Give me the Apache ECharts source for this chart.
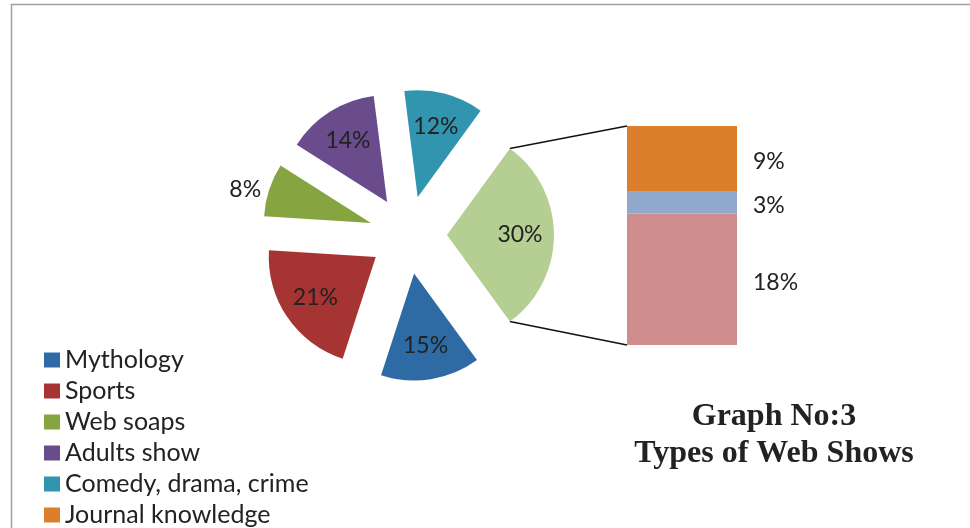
<!DOCTYPE html>
<html><head><meta charset="utf-8">
<script src="https://cdn.jsdelivr.net/npm/echarts@6/dist/echarts.min.js"></script>
<style>html,body{margin:0;padding:0;background:#fff}#c{width:970px;height:528px}</style>
</head><body><div id="c"></div>
<script>
// ---- data ----
const pieNames = ['Mythology', 'Sports', 'Web soaps', 'Adults show', 'Comedy, drama, crime'];
const pieValues = [15, 21, 8, 14, 12];
const otherName = 'Other';
// secondary bar, top to bottom (only the first name is visible in the legend)
const barNames = ['Journal knowledge', 'Item 7', 'Item 8'];
const barValues = [9, 3, 18];
const legendNames = ['Mythology', 'Sports', 'Web soaps', 'Adults show', 'Comedy, drama, crime', 'Journal knowledge'];
const titleLines = ['Graph No:3', 'Types of Web Shows'];

// ---- styles ----
const pieColors = ['#2E6BA4', '#A63432', '#86A43F', '#6A4C8C', '#3295B0'];
const otherColor = '#B5CF92';
const barColors = ['#DC7F2C', '#91A8CD', '#CF8C8C'];
const FONT = 'Lato';
const FS = 23;
const LFS = 25;
const TXT = '#222';
const CX = 408, CY = 235, R = 107, OFFSET = 39, START = -54;
const GRID = { left: 627, right: 233, top: 126, bottom: 183 };

const otherValue = barValues.reduce((a, b) => a + b, 0);
const allPieNames = pieNames.concat([otherName]);
const allPieValues = pieValues.concat([otherValue]);
const allPieColors = pieColors.concat([otherColor]);

const chart = echarts.init(document.getElementById('c'), null, { renderer: 'canvas' });

const mainData = allPieValues.map((v, i) => {
  const item = { name: allPieNames[i], value: v, selected: true, itemStyle: { color: allPieColors[i] } };
  if (allPieNames[i] === 'Web soaps') {
    item.label = { show: true, position: 'outside', formatter: '{c}%', color: TXT, fontFamily: FONT, fontSize: FS, distanceToLabelLine: 5, offset: [0, 1] };
    item.labelLine = { show: false, length: 0, length2: 3 };
  }
  return item;
});
const ghostData = allPieValues.map((v, i) => ({
  value: v, selected: true,
  label: { show: allPieNames[i] !== 'Web soaps' }
}));

// bar series: stacking bottom-up, so reverse the top-to-bottom list
const barSeries = barNames.map((n, i) => ({
  type: 'bar', name: n, stack: 'b', barWidth: '100%', barCategoryGap: 0,
  data: [barValues[i]],
  itemStyle: { color: barColors[i] },
  label: { show: true, position: 'right', distance: 16, offset: [0, 3], formatter: '{c}%', color: TXT, fontFamily: FONT, fontSize: FS },
  emphasis: { disabled: true }, silent: true, z: 2
})).reverse();

chart.setOption({
  animation: false,
  textStyle: { fontFamily: FONT },
  legend: {
    data: legendNames, orient: 'vertical', left: 44, top: 347, padding: 0,
    icon: 'rect', itemWidth: 16, itemHeight: 15, itemGap: 5,
    textStyle: { fontFamily: FONT, fontSize: LFS, color: TXT, lineHeight: 26 },
    selectedMode: false
  },
  grid: GRID,
  xAxis: { type: 'category', data: ['x'], show: false },
  yAxis: { type: 'value', min: 0, max: otherValue, show: false },
  series: [
    {
      type: 'pie', name: 'main', center: [CX, CY], radius: [0, R], startAngle: START, clockwise: true,
      selectedMode: 'multiple', selectedOffset: OFFSET, avoidLabelOverlap: false,
      label: { show: false }, labelLine: { show: false },
      emphasis: { disabled: true }, silent: true,
      data: mainData
    },
    {
      type: 'pie', name: 'labels', center: [CX, CY], radius: [0, 140], startAngle: START, clockwise: true,
      selectedMode: 'multiple', selectedOffset: OFFSET, avoidLabelOverlap: false,
      itemStyle: { color: 'rgba(0,0,0,0)' },
      label: { show: true, position: 'inside', offset: [0, 2], formatter: '{c}%', color: TXT, fontFamily: FONT, fontSize: FS },
      labelLine: { show: false }, emphasis: { disabled: true }, silent: true,
      data: ghostData
    }
  ].concat(barSeries)
});

// connector lines, computed from the pie layout and the bar axis
const total = allPieValues.reduce((a, b) => a + b, 0);
const before = pieValues.reduce((a, b) => a + b, 0);
const a1 = (START - 360 * before / total) * Math.PI / 180;
const a2 = (START - 360) * Math.PI / 180;
const mid = (a1 + a2) / 2;
const tx = CX + OFFSET * Math.cos(mid), ty = CY - OFFSET * Math.sin(mid);
const p1 = [tx + R * Math.cos(a1), ty - R * Math.sin(a1)];
const p2 = [tx + R * Math.cos(a2), ty - R * Math.sin(a2)];
const yTop = chart.convertToPixel({ yAxisIndex: 0 }, otherValue);
const yBot = chart.convertToPixel({ yAxisIndex: 0 }, 0);
const xBar = GRID.left;

chart.setOption({
  graphic: [
    { type: 'rect', silent: true, shape: { x: 11.5, y: 4.5, width: 1000, height: 600 }, style: { fill: null, stroke: '#A0A0A0', lineWidth: 1.5 } },
    { type: 'line', silent: true, shape: { x1: p1[0], y1: p1[1], x2: xBar, y2: yTop }, style: { stroke: '#111', lineWidth: 1.5 } },
    { type: 'line', silent: true, shape: { x1: p2[0], y1: p2[1], x2: xBar, y2: yBot }, style: { stroke: '#111', lineWidth: 1.5 } },
    { type: 'text', silent: true, x: 774, y: 435, style: { text: titleLines.join('\n'), textAlign: 'center', textVerticalAlign: 'middle', font: 'bold 32px "Liberation Serif"', lineHeight: 37, fill: TXT } }
  ]
});
</script></body></html>
